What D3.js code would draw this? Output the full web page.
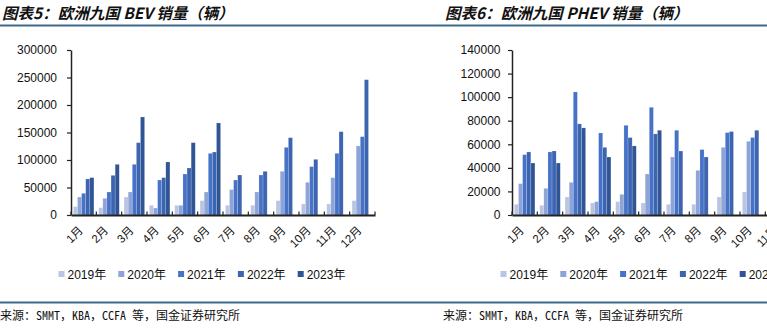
<!DOCTYPE html>
<html><head><meta charset="utf-8">
<script src="https://cdn.jsdelivr.net/npm/d3@7"></script>
<style>
html,body{margin:0;padding:0;background:#fff;overflow:hidden;}
svg{display:block;}
</style></head>
<body>
<svg id="c" width="767" height="333"></svg>
<script>
// ---------- data ----------
const months = ["1月","2月","3月","4月","5月","6月","7月","8月","9月","10月","11月","12月"];
const years = ["2019年","2020年","2021年","2022年","2023年"];

const bevTitle = "图表5：欧洲九国 BEV 销量（辆）";
const bevTicks = [0,50000,100000,150000,200000,250000,300000];
const bev2019 = [15200,13300,32700,17600,17600,26100,17600,17600,26100,20000,20000,26100];
const bev2020 = [32700,30300,41800,12700,17600,41800,46100,41800,79400,59400,67900,125500];
const bev2021 = [39400,41800,92100,63600,74500,112100,63600,72700,123000,87900,112100,142400];
const bev2022 = [65500,72100,131500,67900,85500,114500,72700,79400,140600,101200,151500,246000];
const bev2023 = [67900,92100,178200,96400,131500,167300,null,null,null,null,null,null];

const phevTitle = "图表6：欧洲九国 PHEV 销量（辆）";
const phevTicks = [0,20000,40000,60000,80000,100000,120000,140000];
const phev2019 = [9100,8200,15300,10200,11300,10200,9100,9100,15300,19500,18000,22000];
const phev2020 = [26600,22600,27700,11300,17500,34800,49200,37900,57400,62500,60000,70000];
const phev2021 = [51200,53500,104400,69600,76100,91400,71900,55500,69900,65700,68000,75000];
const phev2022 = [53500,54300,77300,57400,65700,68800,54300,49200,70800,71900,72000,80000];
const phev2023 = [44100,44100,73900,49200,58600,71900,null,null,null,null,null,null];

const sourceText = "来源：SMMT，KBA，CCFA 等，国金证券研究所";

// ---------- style ----------
const colors = ["#b9c5e3","#8fa4d6","#4673c8","#3c64b0","#2f5596"];
const lineColor = "#3b6a8c";
const numFont = "'Liberation Sans', Arial, sans-serif";
const cjkFont = "'Liberation Sans', 'Noto Sans CJK SC', sans-serif";

const svg = d3.select("#c");

// header / footer rules
svg.append("line").attr("x1",0).attr("x2",767).attr("y1",25.5).attr("y2",25.5)
  .attr("stroke",lineColor).attr("stroke-width",2);
svg.append("line").attr("x1",0).attr("x2",767).attr("y1",302.5).attr("y2",302.5)
  .attr("stroke",lineColor).attr("stroke-width",2);

function drawChart(opt){
  const g = svg.append("g");
  // title
  g.append("text").attr("x",opt.titleX).attr("y",19)
    .attr("font-family","'Noto Sans CJK SC', sans-serif")
    .attr("font-weight","bold").attr("font-style","italic")
    .attr("font-size",15.5).attr("fill","#111").text(opt.title);

  const x0 = d3.scaleBand().domain(months)
    .range([opt.left, opt.left + 304]).paddingInner(0.19).paddingOuter(0.095);
  const x1 = d3.scaleBand().domain(years).range([0, x0.bandwidth()]);
  const y = d3.scaleLinear().domain([0, opt.max]).range([215, 50]);

  const series = years.map((yr,i)=>({yr, i, vals: opt.series[i]}));
  const grp = g.append("g");
  series.forEach(s=>{
    grp.selectAll(null).data(months.map((m,k)=>({m, v:s.vals[k]})).filter(d=>d.v!=null))
      .enter().append("rect")
      .attr("x", d=>x0(d.m)+x1(s.yr))
      .attr("y", d=>y(d.v))
      .attr("width", x1.bandwidth())
      .attr("height", d=>y(0)-y(d.v))
      .attr("fill", colors[s.i])
      .attr("stroke","#fff").attr("stroke-opacity",0.35).attr("stroke-width",0.5);
  });

  // y axis
  const ya = g.append("g").attr("transform",`translate(${opt.left},0)`)
    .call(d3.axisLeft(y).tickValues(opt.ticks).tickFormat(d3.format("d"))
      .tickSizeInner(4).tickSizeOuter(0).tickPadding(opt.pad));
  ya.select(".domain").attr("stroke","#222").attr("stroke-width",1.5);
  ya.selectAll(".tick line").attr("stroke","#222").attr("stroke-width",1.2);
  ya.selectAll("text").attr("font-family",numFont).attr("font-size",12).attr("fill","#111");

  // x axis
  const xa = g.append("g").attr("transform","translate(0,215)")
    .call(d3.axisBottom(x0).tickSize(0).tickFormat(""));
  xa.select(".domain").attr("stroke","#222").attr("stroke-width",1.8);
  const r0 = x0.range()[0];
  xa.selectAll(".bnd").data(d3.range(months.length+1)).enter().append("line")
    .attr("x1", i=>r0 + i*x0.step()).attr("x2", i=>r0 + i*x0.step())
    .attr("y1",0).attr("y2",-3.5).attr("stroke","#222").attr("stroke-width",1.2);
  g.selectAll(null).data(months).enter().append("text")
    .attr("transform", d=>`translate(${x0(d)+x0.bandwidth()/2},231) rotate(-45)`)
    .attr("text-anchor","end")
    .attr("font-family",cjkFont).attr("font-size",11.5).attr("fill","#111")
    .text(d=>d);

  // legend
  const lg = g.selectAll(null).data(years).enter().append("g")
    .attr("transform",(d,i)=>`translate(${opt.legendX + i*59.8},271)`);
  lg.append("rect").attr("width",6).attr("height",6).attr("fill",(d,i)=>colors[i]);
  lg.append("text").attr("x",9).attr("y",7.5)
    .attr("font-family",cjkFont).attr("font-size",12).attr("fill","#111").text(d=>d);

  // source
  g.append("text").attr("x",opt.sourceX).attr("y",319.5)
    .attr("font-family","'Noto Sans Mono CJK SC','Liberation Mono','Noto Sans CJK SC',monospace")
    .attr("font-size",12).attr("fill","#111").text(sourceText);
}

drawChart({title:bevTitle, titleX:2, left:71, max:300000, ticks:bevTicks, pad:10,
  series:[bev2019,bev2020,bev2021,bev2022,bev2023], legendX:58.5, sourceX:0});
drawChart({title:phevTitle, titleX:445, left:512, max:140000, ticks:phevTicks, pad:7.5,
  series:[phev2019,phev2020,phev2021,phev2022,phev2023], legendX:500.5, sourceX:443});
</script>
</body></html>
